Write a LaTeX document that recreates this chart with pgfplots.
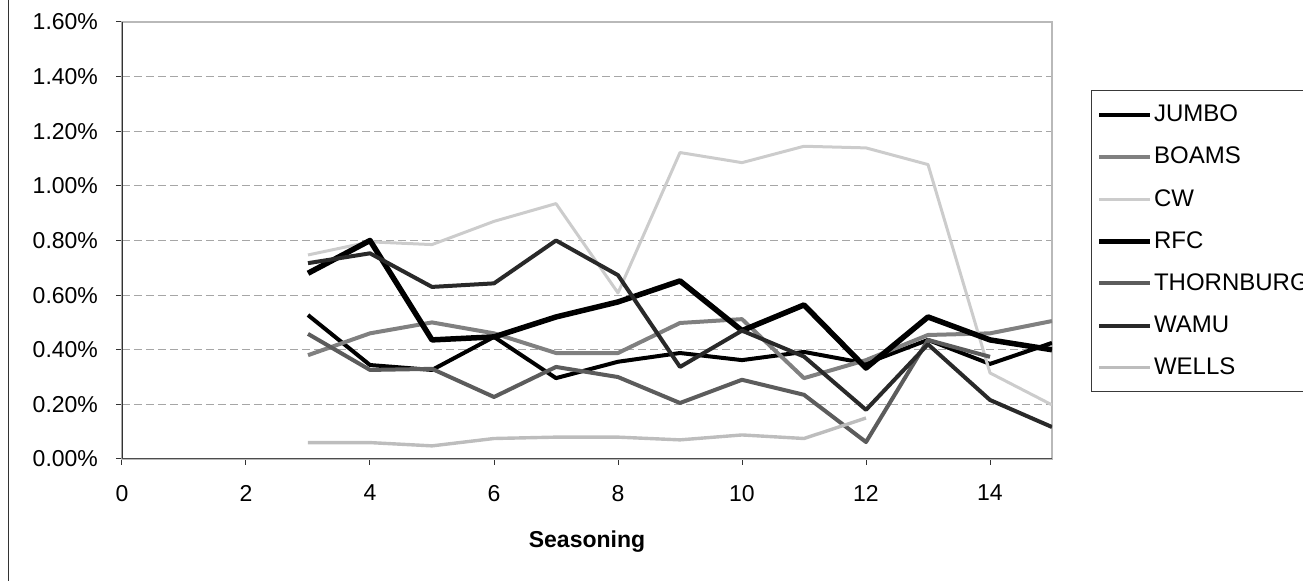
\documentclass[border=0pt]{standalone}
\usepackage{pgfplots}
\pgfplotsset{compat=1.18}
\usepackage{fontspec}
\setmainfont{Liberation Sans}
\definecolor{cJumbo}{gray}{0.0}
\definecolor{cBoams}{gray}{0.50}
\definecolor{cCW}{gray}{0.80}
\definecolor{cRFC}{gray}{0.0}
\definecolor{cThorn}{gray}{0.36}
\definecolor{cWamu}{gray}{0.16}
\definecolor{cWells}{gray}{0.74}
\begin{document}
\begin{tikzpicture}
\useasboundingbox (0,0) rectangle (651.5pt,290.5pt);
\draw[gray!40!black, line width=0.5pt] (4pt,0pt) -- (4pt,290.5pt);
\begin{axis}[
  at={(61pt,61pt)}, anchor=south west,
  scale only axis, width=465pt, height=218.5pt,
  xmin=0, xmax=15, ymin=0, ymax=1.6,
  xtick={0,2,4,6,8,10,12,14},
  ytick={0,0.2,0.4,0.6,0.8,1.0,1.2,1.4,1.6},
  /pgf/number format/assume math mode=true,
  yticklabel={\pgfmathprintnumber[fixed,fixed zerofill,precision=2]{\tick}\%},
  tick pos=left, tick align=outside, major tick length=3pt,
  tick style={gray!40!black, line width=0.5pt},
  axis line style={draw=gray!55, line width=0.6pt},
  ymajorgrids, grid style={gray!70, line width=0.6pt, dash pattern=on 4pt off 2pt},
  font=\fontsize{11.5}{13}\selectfont,
  tick label style={font=\fontsize{11.5}{13}\selectfont},
  yticklabel style={xshift=-5.5pt},
  xticklabel style={yshift=-6.5pt},
  xlabel={\textbf{Seasoning}},
  xlabel style={at={(axis description cs:0.5,-0.188)}, anchor=center, font=\fontsize{11.5}{13}\selectfont},
  legend cell align=left,
  legend style={at={(axis description cs:1.0419,0.8444)}, anchor=north west,
    draw=gray!45!black, line width=0.6pt, fill=white,
    inner xsep=2.5pt, inner ysep=7.2pt, row sep=11.2pt, column sep=0.5pt,
    font=\fontsize{12}{14}\selectfont,
    nodes={inner sep=0pt}},
  legend image code/.code={\draw[#1] (0pt,0pt) -- (25.5pt,0pt);},
  every axis plot/.append style={line join=round},
]
\draw[gray!40!black, line width=0.6pt] (rel axis cs:0,0) -- (rel axis cs:0,1);
\draw[gray!60!black, line width=0.6pt] (rel axis cs:0,0) -- (rel axis cs:1,0);

\addplot[cJumbo, line width=2pt] coordinates {
 (3,0.527)(4,0.344)(5,0.326)(6,0.447)(7,0.296)(8,0.356)(9,0.388)(10,0.362)(11,0.392)(12,0.350)(13,0.436)(14,0.348)(15,0.425)};
\addlegendentry{JUMBO}
\addplot[cBoams, line width=2pt] coordinates {
 (3,0.380)(4,0.460)(5,0.500)(6,0.460)(7,0.388)(8,0.388)(9,0.498)(10,0.512)(11,0.296)(12,0.362)(13,0.454)(14,0.460)(15,0.505)};
\addlegendentry{BOAMS}
\addplot[cCW, line width=1.5pt] coordinates {
 (3,0.747)(4,0.795)(5,0.785)(6,0.870)(7,0.935)(8,0.608)(9,1.122)(10,1.085)(11,1.145)(12,1.139)(13,1.078)(14,0.315)(15,0.198)};
\addlegendentry{CW}
\addplot[cRFC, line width=2.75pt] coordinates {
 (3,0.680)(4,0.800)(5,0.436)(6,0.447)(7,0.520)(8,0.575)(9,0.652)(10,0.470)(11,0.564)(12,0.333)(13,0.520)(14,0.436)(15,0.400)};
\addlegendentry{RFC}
\addplot[cThorn, line width=2pt] coordinates {
 (3,0.458)(4,0.326)(5,0.330)(6,0.227)(7,0.337)(8,0.300)(9,0.205)(10,0.290)(11,0.235)(12,0.062)(13,0.436)(14,0.374)};
\addlegendentry{THORNBURG}
\addplot[cWamu, line width=2pt] coordinates {
 (3,0.717)(4,0.753)(5,0.630)(6,0.643)(7,0.800)(8,0.673)(9,0.337)(10,0.470)(11,0.375)(12,0.180)(13,0.420)(14,0.216)(15,0.117)};
\addlegendentry{WAMU}
\addplot[cWells, line width=1.7pt] coordinates {
 (3,0.060)(4,0.060)(5,0.048)(6,0.075)(7,0.080)(8,0.080)(9,0.070)(10,0.088)(11,0.075)(12,0.150)};
\addlegendentry{WELLS}
\end{axis}
\end{tikzpicture}
\end{document}
